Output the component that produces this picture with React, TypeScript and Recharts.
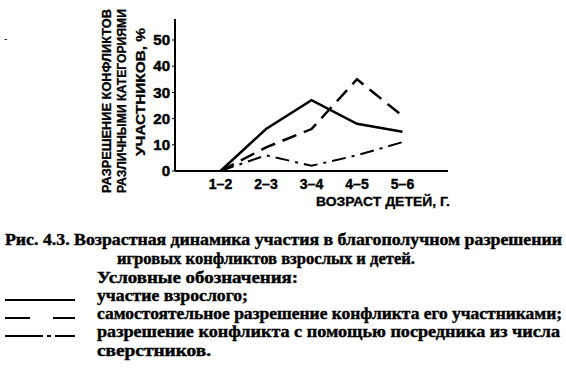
import React from 'react'
import { LineChart, Line, XAxis, YAxis } from 'recharts'

const ageGroups = ['1–2', '2–3', '3–4', '4–5', '5–6']
const adultShare = [0, 16, 27, 18, 15]
const selfResolved = [0, 9, 16, 35, 21]
const peerMediator = [0, 6, 2, 6, 11]
const yTicks = [0, 10, 20, 30, 40, 50]

const data = ageGroups.map((g, i) => ({
  pos: i + 1,
  age: g,
  adult: adultShare[i],
  self: selfResolved[i],
  peer: peerMediator[i],
}))

const axisFont = '"Liberation Sans", Arial, sans-serif'
const serif = '"Liberation Serif", "Times New Roman", serif'

const legendRows = [
  { dash: '', text: 'участие взрослого;', len: 151, y: 301 },
  { dash: '25 23', text: 'самостоятельное разрешение конфликта его участниками;', len: 465, y: 319 },
  { dash: '38 4 4 4 40', text: 'разрешение конфликта с помощью посредника из числа', len: 463, y: 337 },
]

export default function App() {
  return (
    <div style={{ position: 'absolute', left: 0, top: 0, width: 566, height: 369, background: '#fff', color: '#000' }}>
      <div style={{ position: 'absolute', left: 4, top: 33, fontSize: 10 }}>-</div>
      <LineChart width={566} height={215} data={data}
        margin={{ top: 19, right: 118, bottom: 14, left: 145 }}>
        <XAxis dataKey="pos" type="number" domain={[0, 6]} ticks={[1, 2, 3, 4, 5]}
          tickFormatter={(v) => ageGroups[v - 1] ?? ''} height={30}
          axisLine={{ stroke: '#000', strokeWidth: 2 }} tickLine={false}
          tick={{ fill: '#000', stroke: '#000', strokeWidth: 0.4, fontSize: 14, fontWeight: 700, fontFamily: axisFont }} />
        <YAxis domain={[0, 58]} ticks={yTicks} width={30} interval={0}
          axisLine={{ stroke: '#000', strokeWidth: 2 }} tickLine={{ stroke: '#000' }} tickSize={3}
          tick={{ fill: '#000', stroke: '#000', strokeWidth: 0.5, fontSize: 15, fontWeight: 700, fontFamily: axisFont }} />
        <Line dataKey="adult" stroke="#000" strokeWidth={2.5} dot={false} isAnimationActive={false} />
        <Line dataKey="self" stroke="#000" strokeWidth={2.5} strokeDasharray="15 8" dot={false} isAnimationActive={false} />
        <Line dataKey="peer" stroke="#000" strokeWidth={2} strokeDasharray="14 6 3 6" dot={false} isAnimationActive={false} />
      </LineChart>
      <svg width={566} height={369} style={{ position: 'absolute', left: 0, top: 0, pointerEvents: 'none' }}>
        <g fontFamily={axisFont} fontWeight={700} fontSize={12} fill="#000" stroke="#000" strokeWidth={0.3}>
          <text transform="translate(111,101) rotate(-90)" textAnchor="middle" textLength={184} lengthAdjust="spacingAndGlyphs">РАЗРЕШЕНИЕ КОНФЛИКТОВ</text>
          <text transform="translate(126,101) rotate(-90)" textAnchor="middle" textLength={184} lengthAdjust="spacingAndGlyphs">РАЗЛИЧНЫМИ КАТЕГОРИЯМИ</text>
          <text transform="translate(145,92) rotate(-90)" textAnchor="middle" textLength={128} lengthAdjust="spacingAndGlyphs">УЧАСТНИКОВ, %</text>
          <text x={316} y={206} textLength={134} lengthAdjust="spacingAndGlyphs">ВОЗРАСТ ДЕТЕЙ, Г.</text>
        </g>
        <g fontFamily={serif} fontWeight={700} fontSize={16} fill="#000" stroke="#000" strokeWidth={0.4}>
          <text x={5} y={245} textLength={557} lengthAdjust="spacingAndGlyphs">Рис. 4.3. Возрастная динамика участия в благополучном разрешении</text>
          <text x={117} y={264} textLength={298} lengthAdjust="spacingAndGlyphs">игровых конфликтов взрослых и детей.</text>
          <text x={97} y={283} textLength={201} lengthAdjust="spacingAndGlyphs">Условные обозначения:</text>
          {legendRows.map((r) => (
            <g key={r.text}>
              <line x1={5} x2={75} y1={r.y - 1} y2={r.y - 1} stroke="#000" strokeWidth={2} strokeDasharray={r.dash || undefined} />
              <text x={97} y={r.y} textLength={r.len} lengthAdjust="spacingAndGlyphs">{r.text}</text>
            </g>
          ))}
          <text x={97} y={356} textLength={114} lengthAdjust="spacingAndGlyphs">сверстников.</text>
        </g>
      </svg>
    </div>
  )
}
